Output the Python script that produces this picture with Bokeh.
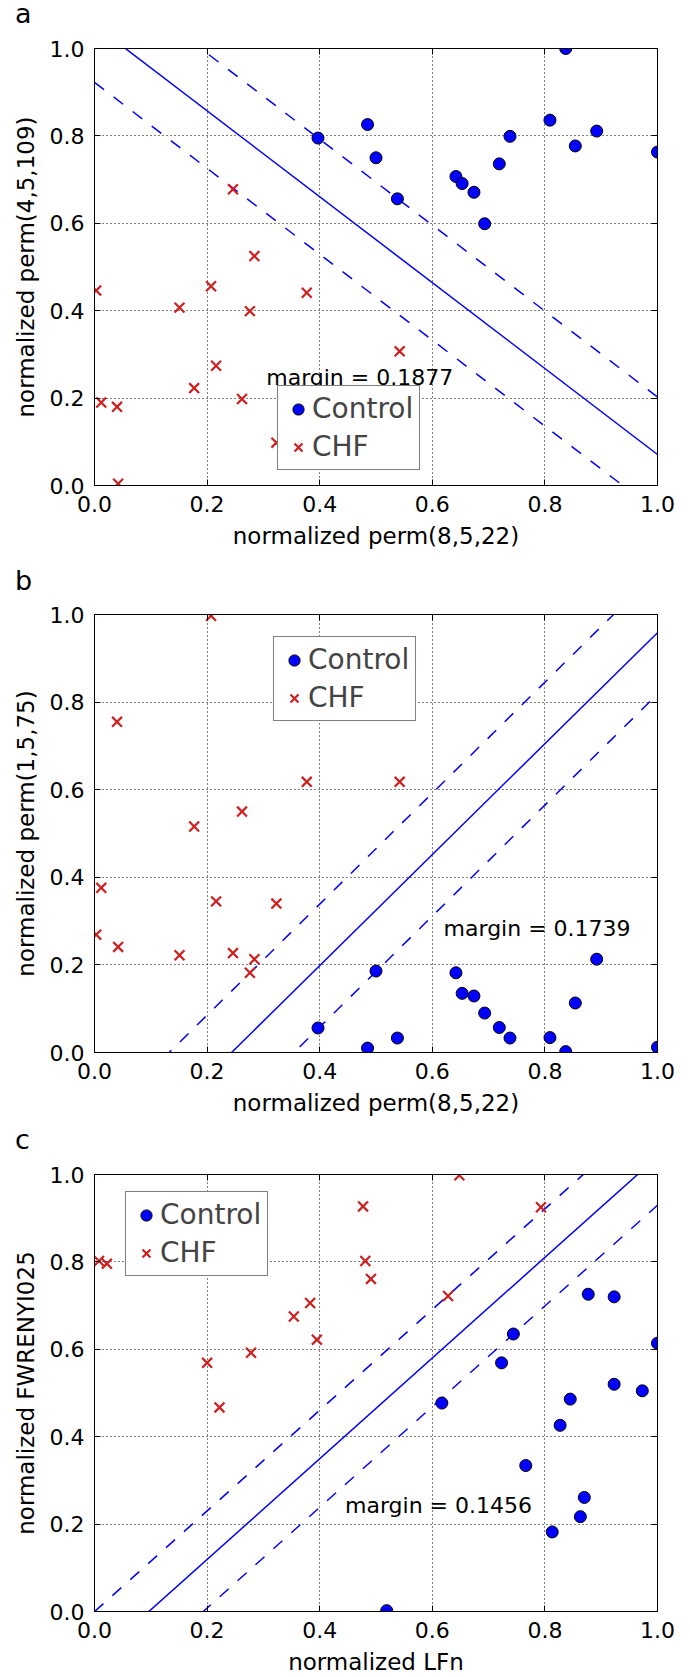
import numpy as np
from bokeh.plotting import figure
from bokeh.models import Label, Range1d, LinearAxis, CustomJSTickFormatter, PrintfTickFormatter, Div
from bokeh.layouts import column
from bokeh.embed import file_html
from bokeh.resources import INLINE

FONT = "DejaVu Sans"
TICKS = [0.0, 0.2, 0.4, 0.6, 0.8, 1.0]

# ---- data: panel a & b share x feature normalized perm(8,5,22)
ctrl_perm_8_5_22 = [0.397, 0.485, 0.500, 0.538, 0.642, 0.653, 0.674, 0.693, 0.719, 0.738, 0.809, 0.837, 0.854, 0.892, 1.000]
ctrl_perm_4_5_109 = [0.795, 0.826, 0.750, 0.656, 0.707, 0.691, 0.671, 0.599, 0.736, 0.799, 0.836, 1.000, 0.777, 0.811, 0.763]
ctrl_perm_1_5_75 = [0.056, 0.010, 0.186, 0.033, 0.182, 0.135, 0.129, 0.090, 0.057, 0.033, 0.034, 0.002, 0.113, 0.213, 0.012]

chf_perm_8_5_22 = [0.003, 0.012, 0.040, 0.042, 0.151, 0.177, 0.207, 0.216, 0.246, 0.262, 0.276, 0.284, 0.323, 0.377, 0.542]
chf_perm_4_5_109 = [0.446, 0.190, 0.180, 0.004, 0.407, 0.223, 0.456, 0.274, 0.678, 0.198, 0.399, 0.525, 0.098, 0.441, 0.307]
chf_perm_1_5_75 = [0.269, 0.376, 0.755, 0.241, 0.222, 0.516, 0.997, 0.345, 0.227, 0.550, 0.182, 0.213, 0.340, 0.618, 0.618]

# ---- panel c
ctrl_LFn = [0.519, 0.617, 0.723, 0.744, 0.766, 0.813, 0.827, 0.845, 0.863, 0.870, 0.877, 0.923, 0.923, 0.973, 1.000]
ctrl_FWRENYI025 = [0.002, 0.477, 0.569, 0.635, 0.334, 0.182, 0.426, 0.486, 0.217, 0.261, 0.726, 0.720, 0.520, 0.505, 0.614]
chf_LFn = [0.008, 0.022, 0.200, 0.222, 0.278, 0.354, 0.383, 0.395, 0.477, 0.481, 0.491, 0.628, 0.648, 0.793]
chf_FWRENYI025 = [0.802, 0.796, 0.569, 0.467, 0.592, 0.675, 0.706, 0.622, 0.927, 0.802, 0.761, 0.722, 0.998, 0.925]

# ---- SVM boundaries (y = slope * x + intercept) and margins
boundary_slope = [-0.983, 1.267, 1.152]
boundary_intercept = [1.054, -0.3085, -0.1113]
margin_value = [0.1877, 0.1739, 0.1456]
margin_text_pos = [(0.305, 0.247), (0.620, 0.283), (0.445, 0.242)]

panel_letters = ["a", "b", "c"]
x_labels = ["normalized perm(8,5,22)", "normalized perm(8,5,22)", "normalized LFn"]
y_labels = ["normalized perm(4,5,109)", "normalized perm(1,5,75)", "normalized FWRENYI025"]

CTRL_COLOR = "#0000ff"
CHF_COLOR = "#d01f1f"
LINE_COLOR = "#0000ff"


def make_letter_strip(i, height, pad_top):
    html = ('<div style="font-family:\'DejaVu Sans\';font-size:27px;line-height:27px;'
            'color:black;margin:0;padding:%dpx 0 0 15px;">%s</div>' % (pad_top, panel_letters[i]))
    return Div(text=html, width=690, height=height, margin=0)


def make_panel(i, xc, yc, xh, yh, height, top, bottom, legend_loc):
    p = figure(width=690, height=height, x_range=Range1d(0, 1), y_range=Range1d(0, 1),
               output_backend="svg", toolbar_location=None, title=None,
               min_border_left=94, min_border_right=33,
               min_border_top=top, min_border_bottom=bottom,
               background_fill_color="white", border_fill_color="white")
    p.outline_line_color = "black"
    p.outline_line_width = 1
    p.outline_line_alpha = 1

    for ax in list(p.xaxis) + list(p.yaxis):
        ax.ticker = TICKS
        ax.formatter = PrintfTickFormatter(format="%.1f")
        ax.major_tick_in = 6
        ax.major_tick_out = 0
        ax.minor_tick_line_color = None
        ax.axis_line_color = "black"
        ax.major_tick_line_color = "black"
        ax.major_label_text_font = FONT
        ax.major_label_text_font_size = "22px"
        ax.major_label_text_color = "black"
        ax.major_label_standoff = 10
        ax.axis_label_text_font = FONT
        ax.axis_label_text_font_size = "23px"
        ax.axis_label_text_font_style = "normal"
        ax.axis_label_text_color = "black"
        ax.axis_label_standoff = 8
    p.xaxis.axis_label = x_labels[i]
    p.yaxis.axis_label = y_labels[i]

    for loc in ("right", "above"):
        ax = LinearAxis(ticker=TICKS, formatter=CustomJSTickFormatter(code="return ''"),
                        major_tick_in=6, major_tick_out=0, minor_tick_line_color=None,
                        axis_line_color="black", major_tick_line_color="black",
                        major_label_standoff=0)
        p.add_layout(ax, loc)

    p.grid.ticker = TICKS
    p.grid.grid_line_color = "black"
    p.grid.grid_line_dash = "1 3"
    p.grid.grid_line_width = 1
    p.grid.grid_line_alpha = 1

    # boundary and margins
    xs = np.array([p.x_range.start, p.x_range.end])
    m, c, mg = boundary_slope[i], boundary_intercept[i], margin_value[i]
    off = mg / 2.0 * np.sqrt(1 + m * m)
    p.line(xs, m * xs + c, line_color=LINE_COLOR, line_width=1.5)
    p.line(xs, m * xs + c + off, line_color=LINE_COLOR, line_width=1.5, line_dash="12 12")
    p.line(xs, m * xs + c - off, line_color=LINE_COLOR, line_width=1.5, line_dash="12 12")

    p.scatter(xc, yc, marker="circle", size=12, fill_color=CTRL_COLOR, line_color="black",
              line_width=1, legend_label="Control")
    p.scatter(xh, yh, marker="x", size=14, line_color=CHF_COLOR, line_width=2.2,
              legend_label="CHF")

    tx, ty = margin_text_pos[i]
    p.add_layout(Label(x=tx, y=ty, text="margin = %.4f" % mg, text_font=FONT,
                       text_font_size="22px", text_color="black", text_baseline="alphabetic"))

    lg = p.legend[0]
    lg.location = legend_loc
    lg.label_text_font = FONT
    lg.label_text_font_size = "28px"
    lg.label_height = 28
    lg.glyph_height = 28
    lg.glyph_width = 28
    lg.label_standoff = -4
    lg.padding = 6
    lg.spacing = 5
    lg.margin = 0
    lg.border_line_color = "black"
    lg.border_line_width = 1
    lg.background_fill_color = "white"
    lg.background_fill_alpha = 1
    return p


sa = make_letter_strip(0, 30, 0)
pa = make_panel(0, ctrl_perm_8_5_22, ctrl_perm_4_5_109, chf_perm_8_5_22, chf_perm_4_5_109,
                528, 18, 73, (183, 15))
sb = make_letter_strip(1, 40, 9)
pb = make_panel(1, ctrl_perm_8_5_22, ctrl_perm_1_5_75, chf_perm_8_5_22, chf_perm_1_5_75,
                524, 16, 70, (179, 331))
sc = make_letter_strip(2, 36, 4)
pc = make_panel(2, ctrl_LFn, ctrl_FWRENYI025, chf_LFn, chf_FWRENYI025,
                519, 16, 65, (31, 335))

layout = column(sa, pa, sb, pb, sc, pc, spacing=0)
open("out.html", "w").write(file_html(layout, INLINE))
